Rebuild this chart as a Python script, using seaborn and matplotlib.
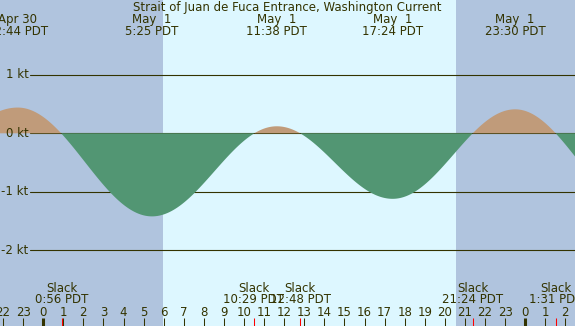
import numpy as np
import pandas as pd
import matplotlib
matplotlib.use("Agg")
import matplotlib.pyplot as plt
import seaborn as sns

# ---- data (hours relative to May 1 00:00 PDT, speed in knots) ----
# maximum flood / ebb events (first and last lie outside the visible window)
max_hours = [-8.76, -1.267, 5.417, 11.633, 17.4, 23.5, 29.69]
max_speeds = [-1.3, 0.44, -1.42, 0.12, -1.12, 0.41, -1.3]

top_label_hours = [-1.267, 5.417, 11.633, 17.4, 23.5]
top_label_dates = ["Apr 30", "May  1", "May  1", "May  1", "May  1"]
top_label_times = ["22:44 PDT", "5:25 PDT", "11:38 PDT", "17:24 PDT", "23:30 PDT"]

slack_hours = [0.933, 10.483, 12.8, 21.4, 25.517]
slack_times = ["0:56 PDT", "10:29 PDT", "12:48 PDT", "21:24 PDT", "1:31 PDT"]

sunrise_hour = 5.97
sunset_hour = 20.56

kt_levels = [1, 0, -1, -2]
kt_labels = ["1 kt", "0 kt", "-1 kt", "-2 kt"]

hour_ticks = list(range(-2, 27))
title = "Strait of Juan de Fuca Entrance, Washington Current"

# ---- styles ----
night_col = "#b0c4de"
day_col = "#ddf7ff"
flood_col = "#c09b7a"
ebb_col = "#529673"
ink = "#333300"
FS = 8.5

X0, X1 = -2.151, 26.48
PX_PER_KT = 58.5
ZERO_PY = 133.3
def py2kt(py):
    return (ZERO_PY - py) / PX_PER_KT
Y0, Y1 = py2kt(326), py2kt(0)
PX_PER_H = 575 / (X1 - X0)

# curve rendered between successive maxima with cosine easing
t = np.linspace(X0, X1, 3000)
h = np.array(max_hours); s = np.array(max_speeds)
idx = np.clip(np.searchsorted(h, t) - 1, 0, len(h) - 2)
f = (t - h[idx]) / (h[idx + 1] - h[idx])
v = s[idx] + (s[idx + 1] - s[idx]) * (1 - np.cos(np.pi * f)) / 2
df = pd.DataFrame({"hour": t, "speed": v})

sns.set_theme(style="white")
plt.rcParams["font.family"] = ["DejaVu Sans"]

fig = plt.figure(figsize=(5.75, 3.26), dpi=100)
ax = fig.add_axes([0, 0, 1, 1])

ax.axvspan(X0, sunrise_hour, color=night_col, lw=0, zorder=0)
ax.axvspan(sunrise_hour, sunset_hour, color=day_col, lw=0, zorder=0)
ax.axvspan(sunset_hour, X1, color=night_col, lw=0, zorder=0)

# horizontal knot lines + labels
line_start = X0 + 30 / PX_PER_H
for lev, lab in zip(kt_levels, kt_labels):
    ax.plot([line_start, X1], [lev, lev], color=ink, lw=0.8, zorder=1)
    ax.text(X0 + 28.5 / PX_PER_H, lev, lab, ha="right", va="center",
            fontsize=FS, color=ink, zorder=3)

sns.lineplot(data=df, x="hour", y="speed", ax=ax, lw=0, legend=False)
ax.fill_between(df["hour"], 0, df["speed"], where=df["speed"] >= 0,
                color=flood_col, lw=0, zorder=2, interpolate=True)
ax.fill_between(df["hour"], 0, df["speed"], where=df["speed"] <= 0,
                color=ebb_col, lw=0, zorder=2, interpolate=True)
ax.set_xlim(X0, X1)
ax.set_ylim(Y0, Y1)
ax.axis("off")

# title & top labels
ax.text((X0 + X1) / 2, py2kt(7.5), title, ha="center", va="center",
        fontsize=FS, color=ink, zorder=4)
for hr, d, tm in zip(top_label_hours, top_label_dates, top_label_times):
    ax.text(hr, py2kt(20), d, ha="center", va="center", fontsize=FS, color=ink, zorder=4)
    ax.text(hr, py2kt(32), tm, ha="center", va="center", fontsize=FS, color=ink, zorder=4)

# slack labels
for hr, tm in zip(slack_hours, slack_times):
    ax.text(hr, py2kt(288), "Slack", ha="center", va="center", fontsize=FS, color=ink, zorder=4)
    ax.text(hr, py2kt(299.5), tm, ha="center", va="center", fontsize=FS, color=ink, zorder=4)

# hour ticks & labels
for hr in hour_ticks:
    lbl = str(hr % 24)
    ax.text(hr, py2kt(312), lbl, ha="center", va="center", fontsize=FS, color=ink, zorder=4)
    lw = 2.2 if hr % 24 == 0 else 0.75
    ax.plot([hr, hr], [py2kt(318), Y0], color=ink, lw=lw, zorder=4, solid_capstyle="butt")
for hr in slack_hours:
    ax.plot([hr, hr], [py2kt(318), Y0], color="red", lw=0.75, zorder=4, solid_capstyle="butt")

fig.savefig("out.png", dpi=100)
